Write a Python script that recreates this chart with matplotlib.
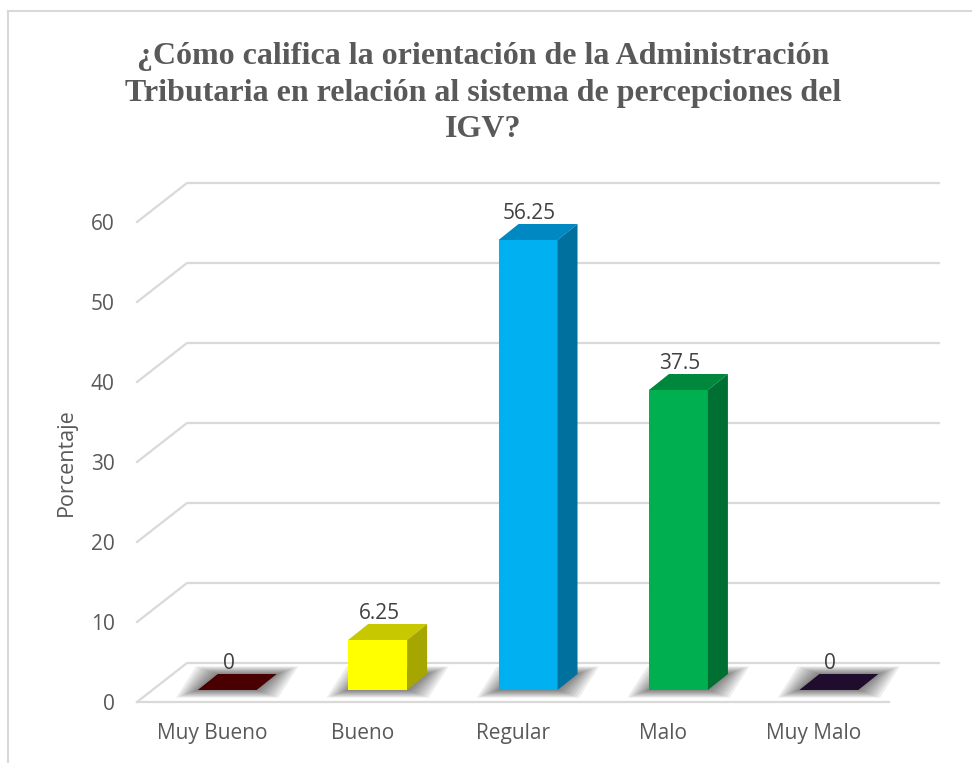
import matplotlib.pyplot as plt
from matplotlib.patches import Polygon

categories = ["Muy Bueno", "Bueno", "Regular", "Malo", "Muy Malo"]
values = [0, 6.25, 56.25, 37.5, 0]
front_colors = ["#4A0000", "#FFFF00", "#00B0F0", "#00B050", "#200D2E"]
top_colors = ["#4A0000", "#C8C800", "#0088C2", "#00873E", "#200D2E"]
side_colors = ["#3A0000", "#A6A600", "#00709E", "#007032", "#180A22"]
y_ticks = [0, 10, 20, 30, 40, 50, 60]
title = ("¿Cómo califica la orientación de la Administración\n"
         "Tributaria en relación al sistema de percepciones del\n"
         "IGV?")

TEXT = "#595959"
GRID = "#D9D9D9"
FONT = "Open Sans"

# fake 3d: depth of the floor and of each bar, in data units
floor_dx, floor_dy = 0.332, 4.875
bar_off_x, bar_off_y = 0.10, 1.5
bar_dx, bar_dy = 0.133, 2.0
bar_w = 0.392

fig = plt.figure(figsize=(9.72, 7.63), dpi=100)
ax = fig.add_axes([137 / 972, 61 / 763, 752 / 972, 480 / 763])
ax.set_xlim(-0.5, len(categories) - 0.5)
ax.set_ylim(0, 60)
for s in ax.spines.values():
    s.set_visible(False)

# chart border (top and left only visible)
fig.add_artist(plt.Line2D([8 / 972, 1], [1 - 11 / 763] * 2, color=GRID, lw=1.5))
fig.add_artist(plt.Line2D([8 / 972] * 2, [0, 1 - 11 / 763], color=GRID, lw=1.5))

# back wall gridlines with the diagonal on the side wall
x0, x1 = -0.5, len(categories) - 0.5
for v in y_ticks:
    ax.plot([x0, x0 + floor_dx, x1 + floor_dx], [v, v + floor_dy, v + floor_dy],
            color=GRID, lw=1.6, clip_on=False, zorder=1)
ax.plot([x0, x1], [0, 0], color=GRID, lw=1.6, clip_on=False, zorder=1)

xs = [i + bar_off_x for i in range(len(categories))]

# soft shadows on the floor
for i, x in enumerate(xs):
    xl, xr = x - bar_w / 2, x + bar_w / 2
    for k in range(8, 0, -1):
        ex, ey = 0.018 * k, 0.12 * k
        pts = [(xl - ex, bar_off_y - ey), (xr + ex, bar_off_y - ey),
               (xr + bar_dx + ex, bar_off_y + bar_dy + ey),
               (xl + bar_dx - ex, bar_off_y + bar_dy + ey)]
        ax.add_patch(Polygon(pts, closed=True, color="black", alpha=0.07,
                             lw=0, zorder=2, clip_on=False))

ax.bar(xs, values, width=bar_w, bottom=bar_off_y, color=front_colors,
       zorder=4, clip_on=False)

for i, (x, v) in enumerate(zip(xs, values)):
    xl, xr = x - bar_w / 2, x + bar_w / 2
    yb, yt = bar_off_y, bar_off_y + v
    top = [(xl, yt), (xr, yt), (xr + bar_dx, yt + bar_dy), (xl + bar_dx, yt + bar_dy)]
    ax.add_patch(Polygon(top, closed=True, color=top_colors[i], lw=0,
                         zorder=4, clip_on=False))
    if v > 0:
        side = [(xr, yb), (xr, yt), (xr + bar_dx, yt + bar_dy), (xr + bar_dx, yb + bar_dy)]
        ax.add_patch(Polygon(side, closed=True, color=side_colors[i], lw=0,
                             zorder=4, clip_on=False))
    ax.text(i + 0.11, v + bar_off_y + bar_dy + 1.3, f"{v:g}", ha="center",
            va="center", fontsize=15, color="#404040", family=FONT, zorder=5)

ax.set_xticks(range(len(categories)))
ax.set_xticklabels(categories)
ax.set_yticks(y_ticks)
ax.tick_params(length=0, labelsize=15, labelcolor=TEXT)
ax.tick_params(axis="y", pad=16)
ax.tick_params(axis="x", pad=15)
for lab in ax.get_xticklabels() + ax.get_yticklabels():
    lab.set_family(FONT)

ax.set_ylabel("Porcentaje", fontsize=15.5, color=TEXT, family=FONT)
ax.yaxis.set_label_coords(-0.08, 0.5)

fig.text(0.497, 1 - 93 / 763, title, ha="center", va="center", fontsize=23,
         fontweight="bold", color=TEXT, family="Liberation Serif",
         linespacing=1.32)

fig.savefig("out.png", dpi=100)
